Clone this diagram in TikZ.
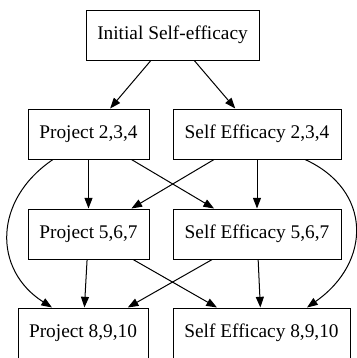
\documentclass[tikz,border=0pt]{standalone}
\usepackage{fontspec}
\setmainfont{Liberation Serif}
\usetikzlibrary{arrows.meta,calc}
\begin{document}
\begin{tikzpicture}[x=0.75pt,y=-0.75pt,
  box/.style={draw,line width=0.75pt,inner sep=0pt,minimum height=37.5pt,
    font=\fontsize{14.5pt}{16.5pt}\selectfont},
  edge/.style={line width=0.75pt,-{Triangle[length=8pt,width=6pt]}}]
\useasboundingbox (0,0) rectangle (357,358);
% boxes
\node[box,minimum width=129.75pt] (init) at (172.5,35) {Initial Self-efficacy};
\node[box,minimum width=90.75pt]  (p234) at (88.5,134) {Project 2,3,4};
\node[box,minimum width=126pt]    (s234) at (257,134) {Self Efficacy 2,3,4};
\node[box,minimum width=90.75pt]  (p567) at (88.5,234) {Project 5,6,7};
\node[box,minimum width=126pt]    (s567) at (257,234) {Self Efficacy 5,6,7};
\node[box,minimum width=97.5pt]   (p8910) at (83,333) {Project 8,9,10};
\node[box,minimum width=132.75pt] (s8910) at (261.5,333) {Self Efficacy 8,9,10};
% straight connectors
\draw[edge] (init) -- (p234);
\draw[edge] (init) -- (s234);
\draw[edge] (p234) -- (p567);
\draw[edge] (p234) -- (s567);
\draw[edge] (s234) -- (p567);
\draw[edge] (s234) -- (s567);
\draw[edge] (p567) -- (p8910);
\draw[edge] (p567) -- (s8910);
\draw[edge] (s567) -- (p8910);
\draw[edge] (s567) -- (s8910);
% long connectors round the outside
\draw[edge] ($(p234.south)+(-35.5,0)$) .. controls (-7,200) and (-7,270) .. ($(p8910.north)+(-31,0)$);
\draw[edge] ($(s234.south)+(48,0)$) .. controls (372,190) and (372,262) .. ($(s8910.north)+(45.5,0)$);
\end{tikzpicture}
\end{document}
